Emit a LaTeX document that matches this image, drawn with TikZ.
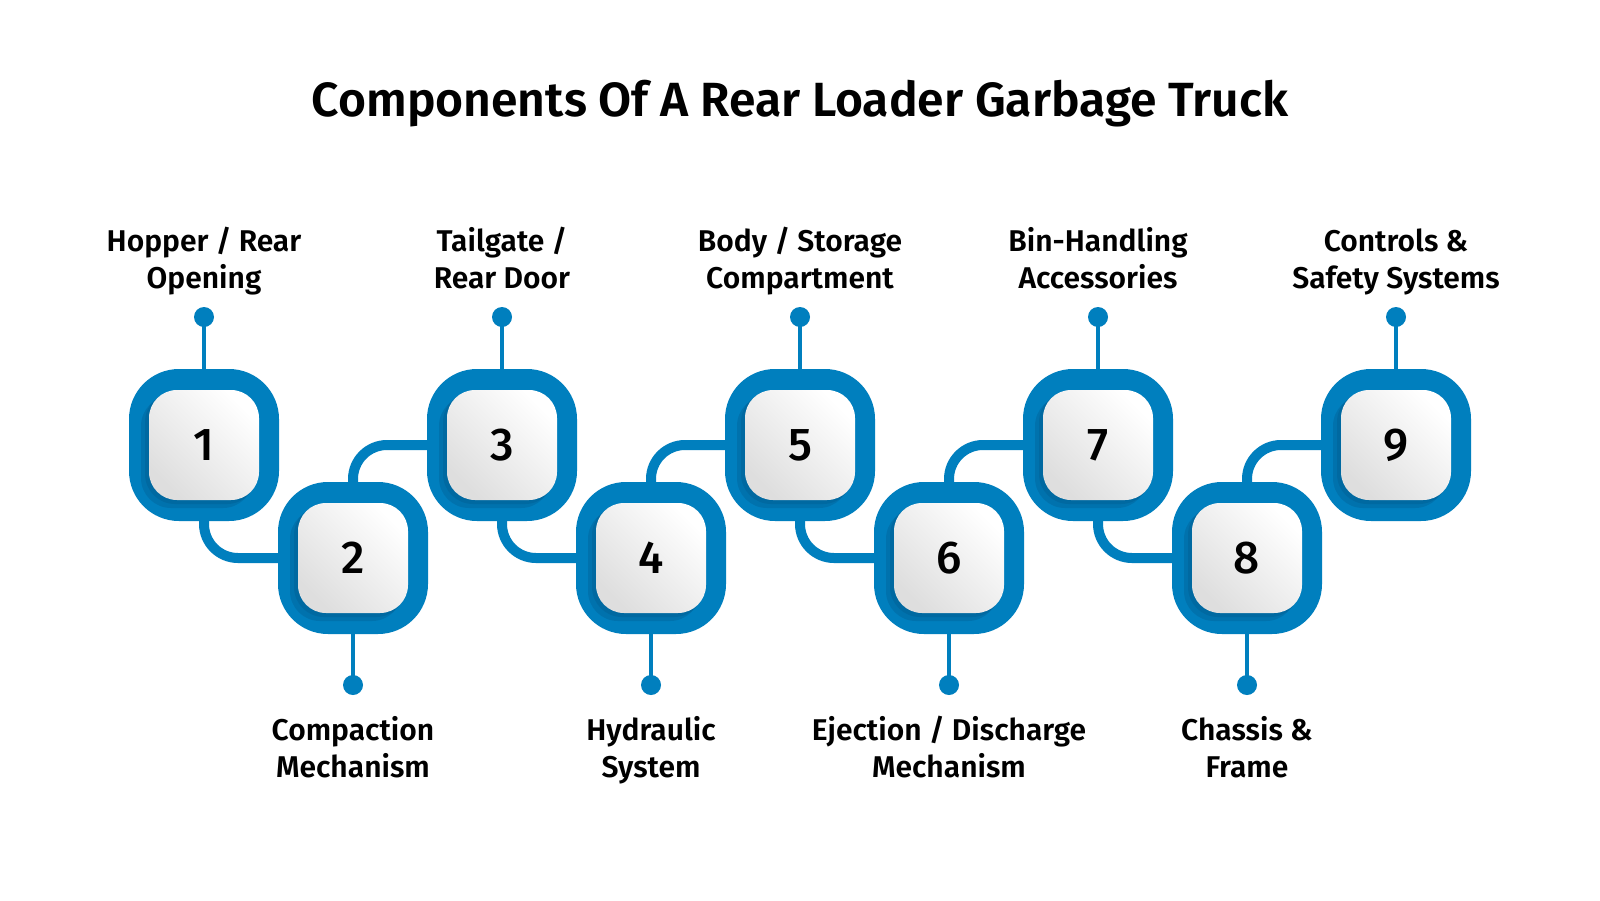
\documentclass[tikz,border=0pt]{standalone}
\usepackage{fontspec}
\setmainfont{Fira Sans}[BoldFont={Fira Sans SemiBold}]
\newfontfamily\numfont{Fira Sans Medium}
\usetikzlibrary{calc}
\definecolor{tblue}{RGB}{0,127,190}
\definecolor{tshadow}{RGB}{0,70,115}
\definecolor{tgray}{RGB}{222,222,222}
\tikzset{
  outerbox/.style={fill=tblue, minimum width=150pt, minimum height=152pt, rounded corners=50pt, inner sep=0pt},
  innerbox/.style={minimum width=110pt, minimum height=110pt, rounded corners=28pt, inner sep=0pt,
     top color=white, bottom color=tgray, shading angle=-45, font=\fontsize{46}{46}\selectfont\numfont},
  shadowbox/.style={fill=tshadow, minimum width=112pt, minimum height=112pt, rounded corners=30pt, inner sep=0pt, opacity=0.22},
  conn/.style={draw=tblue, line width=10pt, rounded corners=34pt},
  stem/.style={draw=tblue, line width=4.5pt},
  dot/.style={circle, fill=tblue, minimum size=20pt, inner sep=0pt},
  lbl/.style={align=center, font=\fontsize{30}{37}\selectfont\bfseries},
  ttl/.style={font=\fontsize{48}{54}\selectfont\bfseries}
}
\begin{document}
\begin{tikzpicture}[x=1pt,y=-1pt]
\useasboundingbox (0,0) rectangle (1600,900);
\fill[white] (0,0) rectangle (1600,900);
\node[ttl] (title) at (800,104) {Components Of A Rear Loader Garbage Truck};
% outer boxes
\foreach \i/\x/\y in {1/204/445,2/353/558,3/502/445,4/651/558,5/800/445,6/949/558,7/1098/445,8/1247/558,9/1396/445}{
  \node[outerbox] (o\i) at (\x,\y) {};
}
% connectors
\draw[conn] (o1.south) |- (o2.west);
\draw[conn] (o2.north) |- (o3.west);
\draw[conn] (o3.south) |- (o4.west);
\draw[conn] (o4.north) |- (o5.west);
\draw[conn] (o5.south) |- (o6.west);
\draw[conn] (o6.north) |- (o7.west);
\draw[conn] (o7.south) |- (o8.west);
\draw[conn] (o8.north) |- (o9.west);
% inner boxes
\foreach \i/\x/\y in {1/204/445,2/353/558,3/502/445,4/651/558,5/800/445,6/949/558,7/1098/445,8/1247/558,9/1396/445}{
  \node[shadowbox] at (\x-7,\y+7) {};
  \node[shadowbox, opacity=0.2] at (\x-3,\y+3) {};
  \node[innerbox] (n\i) at (\x,\y) {\i};
}
% dots and stems
\foreach \i/\x in {1/204,3/502,5/800,7/1098,9/1396}{
  \node[dot] (d\i) at (\x,317) {};
  \draw[stem] (o\i.north) -- (d\i.center);
}
\foreach \i/\x in {2/353,4/651,6/949,8/1247}{
  \node[dot] (d\i) at (\x,685) {};
  \draw[stem] (o\i.south) -- (d\i.center);
}
% labels
\node[lbl] (l1) at (204,263) {\strut Hopper / Rear\\Opening\strut};
\node[lbl] (l3) at (502,263) {\strut Tailgate /\\Rear Door\strut};
\node[lbl] (l5) at (800,263) {\strut Body / Storage\\Compartment\strut};
\node[lbl] (l7) at (1098,263) {\strut Bin-Handling\\Accessories\strut};
\node[lbl] (l9) at (1396,263) {\strut Controls \&\\Safety Systems\strut};
\node[lbl] (l2) at (353,752) {\strut Compaction\\Mechanism\strut};
\node[lbl] (l4) at (651,752) {\strut Hydraulic\\System\strut};
\node[lbl] (l6) at (949,752) {\strut Ejection / Discharge\\Mechanism\strut};
\node[lbl] (l8) at (1247,752) {\strut Chassis \&\\Frame\strut};
\end{tikzpicture}
\end{document}
